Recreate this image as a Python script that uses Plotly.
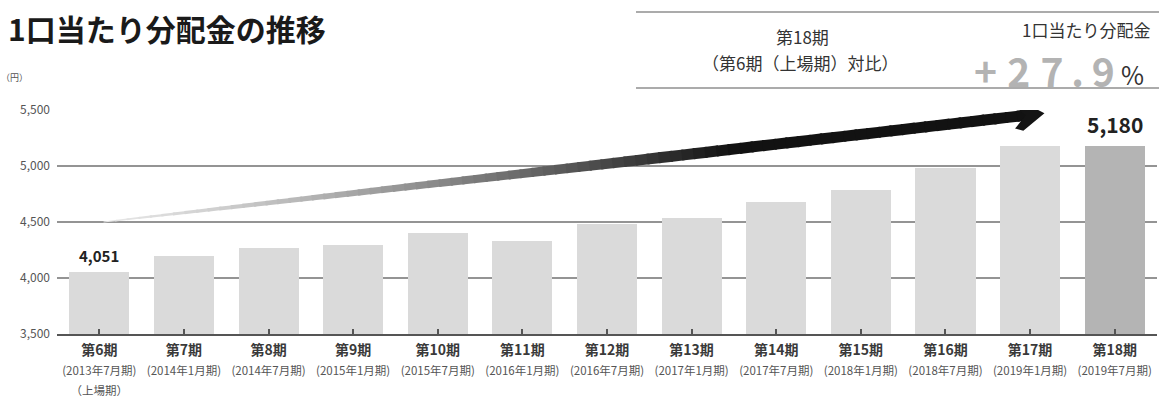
import plotly.graph_objects as go

# ---------------- data ----------------
periods = ["第6期", "第7期", "第8期", "第9期", "第10期", "第11期", "第12期",
           "第13期", "第14期", "第15期", "第16期", "第17期", "第18期"]
period_dates = ["(2013年7月期)", "(2014年1月期)", "(2014年7月期)", "(2015年1月期)",
                "(2015年7月期)", "(2016年1月期)", "(2016年7月期)", "(2017年1月期)",
                "(2017年7月期)", "(2018年1月期)", "(2018年7月期)", "(2019年1月期)",
                "(2019年7月期)"]
period_notes = ["（上場期）"] + [""] * 12
dividends = [4051, 4200, 4270, 4295, 4400, 4330, 4480, 4540, 4680, 4785, 4980, 5175, 5180]
labeled = {0: "4,051", 12: "5,180"}
y_ticks = [3500, 4000, 4500, 5000, 5500]

# arrow (data coords): start and tip
arrow_start = (0.05, 4500)
arrow_tip = (11.17, 5472)

# ---------------- layout constants ----------------
W, H = 1159, 401
ML, MR, MT, MB = 57, 2, 110, 67
PW, PH = W - ML - MR, H - MT - MB
XR = (-0.5, len(periods) - 0.5)
YR = (3500, 5500)

def px_x(x):
    return ML + (x - XR[0]) / (XR[1] - XR[0]) * PW

def px_y(y):
    return MT + (YR[1] - y) / (YR[1] - YR[0]) * PH

def data_x(px):
    return XR[0] + (px - ML) / PW * (XR[1] - XR[0])

def data_y(py):
    return YR[1] - (py - MT) / PH * (YR[1] - YR[0])

def paper_x(px):
    return (px - ML) / PW

def paper_y(py):
    return (MT + PH - py) / PH

fig = go.Figure()

xs = list(range(len(periods)))
colors = ["#dadada"] * (len(periods) - 1) + ["#b4b4b4"]
fig.add_trace(go.Bar(x=xs, y=dividends, marker=dict(color=colors, line=dict(width=0)),
                     width=0.71, hoverinfo="skip", showlegend=False))

# ---------------- gradient arrow ----------------
sx, sy = px_x(arrow_start[0]), px_y(arrow_start[1])
tx, ty = px_x(arrow_tip[0]), px_y(arrow_tip[1])
L = ((tx - sx) ** 2 + (ty - sy) ** 2) ** 0.5
ux, uy = (tx - sx) / L, (ty - sy) / L
nx, ny = -uy, ux
shaft_len = L - 16
N = 80
for i in range(N):
    t0 = i / N
    t1 = min(1.0, (i + 1.2) / N)
    tm = (i + 0.5) / N
    w = 1.0 + 10.0 * min(1.0, tm / 0.6) ** 0.85
    g = int(230 - (230 - 18) * min(1.0, tm / 0.68) ** 1.3)
    x0p, y0p = sx + ux * shaft_len * t0, sy + uy * shaft_len * t0
    x1p, y1p = sx + ux * shaft_len * t1, sy + uy * shaft_len * t1
    hw = w / 2
    pts = [(x0p + nx * hw, y0p + ny * hw), (x1p + nx * hw, y1p + ny * hw),
           (x1p - nx * hw, y1p - ny * hw), (x0p - nx * hw, y0p - ny * hw)]
    fig.add_trace(go.Scatter(
        x=[data_x(p[0]) for p in pts] + [data_x(pts[0][0])],
        y=[data_y(p[1]) for p in pts] + [data_y(pts[0][1])],
        mode="lines", fill="toself", fillcolor=f"rgb({g},{g},{g})",
        line=dict(width=0, color=f"rgb({g},{g},{g})"),
        hoverinfo="skip", showlegend=False))

# arrowhead chevron (pixel offsets along u / n)
head = [(0, 0), (-23, 15), (-31, 12), (-19, 0), (-31, -12), (-23, -15), (0, 0)]
fig.add_trace(go.Scatter(
    x=[data_x(tx + ux * a + nx * b) for a, b in head],
    y=[data_y(ty + uy * a + ny * b) for a, b in head],
    mode="lines", fill="toself", fillcolor="#141414",
    line=dict(width=0, color="#141414"), hoverinfo="skip", showlegend=False))

# ---------------- tick labels ----------------
ticktext = []
for p, d, n in zip(periods, period_dates, period_notes):
    s = (f"<b><span style='font-size:14px;color:#3a3a3a'>{p}</span></b><br>"
         f"<span style='font-size:11.5px;color:#555'>{d}</span>")
    if n:
        s += f"<br><span style='font-size:11.5px;color:#555'>{n}</span>"
    ticktext.append(s)

FONT = "Noto Sans CJK JP"
fig.update_layout(
    width=W, height=H,
    margin=dict(l=ML, r=MR, t=MT, b=MB, pad=0),
    paper_bgcolor="white", plot_bgcolor="white",
    font=dict(family=FONT, color="#444"),
    bargap=0,
    xaxis=dict(range=list(XR), tickmode="array", tickvals=xs, ticktext=ticktext,
               tickfont=dict(size=15.5), ticklabelstandoff=0, automargin=False,
               showgrid=False, zeroline=False, showline=True, linecolor="#555",
               linewidth=2, ticks="inside", tickson="boundaries", ticklen=5,
               tickcolor="#555", tickwidth=1.5, fixedrange=True),
    yaxis=dict(range=list(YR), tickmode="array", tickvals=y_ticks,
               ticktext=[f"{v:,}" for v in y_ticks], showgrid=True, automargin=False,
               gridcolor="#949494", gridwidth=1.6, zeroline=False, showline=False,
               ticks="", tickfont=dict(size=12, color="#555"), ticklabelstandoff=6,
               fixedrange=True),
)

ann = []
for i, txt in labeled.items():
    big = i == len(periods) - 1
    ann.append(dict(x=i, y=dividends[i], xref="x", yref="y", text=f"<b>{txt}</b>",
                    showarrow=False, yanchor="bottom", yshift=5 if big else 4,
                    font=dict(size=21 if big else 15, color="#222", family=FONT)))

ann.append(dict(x=paper_x(6), y=paper_y(28), xref="paper", yref="paper",
                text="<b>1口当たり分配金の推移</b>", showarrow=False,
                xanchor="left", yanchor="middle",
                font=dict(size=30, color="#1a1a1a", family=FONT)))
ann.append(dict(x=paper_x(14), y=paper_y(77), xref="paper", yref="paper",
                text="（円）", showarrow=False, xanchor="center", yanchor="middle",
                font=dict(size=9, color="#555", family=FONT)))
ann.append(dict(x=paper_x(802), y=paper_y(37), xref="paper", yref="paper",
                text="第18期", showarrow=False, xanchor="center", yanchor="middle",
                font=dict(size=17, color="#333", family=FONT)))
ann.append(dict(x=paper_x(800), y=paper_y(63), xref="paper", yref="paper",
                text="（第6期（上場期）対比）", showarrow=False, xanchor="center",
                yanchor="middle", font=dict(size=17, color="#333", family=FONT)))
ann.append(dict(x=paper_x(1086), y=paper_y(30), xref="paper", yref="paper",
                text="1口当たり分配金", showarrow=False, xanchor="center",
                yanchor="middle", font=dict(size=17, color="#333", family=FONT)))
ann.append(dict(x=paper_x(1117), y=paper_y(70), xref="paper", yref="paper",
                text="<b>+\u2009\u200a2\u2009\u200a7\u2009.\u20099</b>", showarrow=False,
                xanchor="right", yanchor="middle",
                font=dict(size=39, color="#b3b3b3", family=FONT)))
ann.append(dict(x=paper_x(1119), y=paper_y(74), xref="paper", yref="paper",
                text="%", showarrow=False, xanchor="left", yanchor="middle",
                font=dict(size=25, color="#333", family=FONT)))
fig.update_layout(annotations=ann)

shapes = []
for py in (12, 88):
    shapes.append(dict(type="line", xref="paper", yref="paper",
                       x0=paper_x(636), x1=paper_x(W), y0=paper_y(py), y1=paper_y(py),
                       line=dict(color="#8f8f8f", width=1.6)))
fig.update_layout(shapes=shapes)

fig.write_html("out.html", config={"displayModeBar": False},
               post_script="document.body.style.margin='0';document.body.style.overflow='hidden';")
